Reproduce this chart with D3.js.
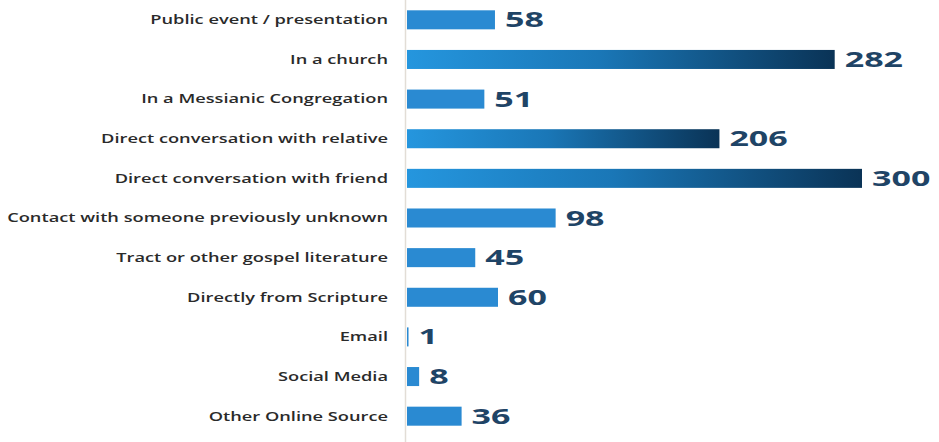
<!DOCTYPE html>
<html>
<head>
<meta charset="utf-8">
<script src="https://cdn.jsdelivr.net/npm/d3@7/dist/d3.min.js"></script>
<style>
  html, body { margin: 0; padding: 0; background: #ffffff; }
  svg { display: block; }
</style>
</head>
<body>
<svg id="chart" width="939" height="442"></svg>
<script>
// How people first heard the gospel
const categories = [
  "Public event / presentation",
  "In a church",
  "In a Messianic Congregation",
  "Direct conversation with relative",
  "Direct conversation with friend",
  "Contact with someone previously unknown",
  "Tract or other gospel literature",
  "Directly from Scripture",
  "Email",
  "Social Media",
  "Other Online Source"
];
const values = [58, 282, 51, 206, 300, 98, 45, 60, 1, 8, 36];

const width = 939, height = 442;
const svg = d3.select("#chart");
const catStretch = 1.46; // wide lettering
const valStretch = 1.62;

const x = d3.scaleLinear().domain([0, 300]).range([407, 862]);
const y = d3.scaleBand()
  .domain(categories)
  .range([0, 436])
  .paddingInner(0.52)
  .paddingOuter(0.26);

const data = categories.map((c, i) => ({ c, v: values[i], i }));

// gradient for the long bars
const defs = svg.append("defs");
const grad = defs.append("linearGradient")
  .attr("id", "longBar")
  .attr("x1", "0%").attr("x2", "100%").attr("y1", "0%").attr("y2", "0%");
grad.append("stop").attr("offset", "0%").attr("stop-color", "#2596de");
grad.append("stop").attr("offset", "45%").attr("stop-color", "#1a77b7");
grad.append("stop").attr("offset", "100%").attr("stop-color", "#0a3356");

// vertical baseline
svg.append("line")
  .attr("x1", 405.5).attr("x2", 405.5)
  .attr("y1", 0).attr("y2", height)
  .attr("stroke", "#e2ddd6").attr("stroke-width", 1.5);

// bars
svg.selectAll("rect.bar")
  .data(data)
  .join("rect")
  .attr("class", "bar")
  .attr("x", x(0))
  .attr("y", d => y(d.c))
  .attr("width", d => Math.max(1.5, x(d.v) - x(0)))
  .attr("height", y.bandwidth())
  .attr("fill", d => d.v > 150 ? "url(#longBar)" : "#2a8ad2");

// category labels
svg.selectAll("text.cat")
  .data(data)
  .join("text")
  .attr("class", "cat")
  .attr("transform", d => `translate(388,${y(d.c) + y.bandwidth() / 2}) scale(${catStretch},1)`)
  .attr("text-anchor", "end")
  .attr("dy", "0.35em")
  .attr("font-family", "'Open Sans', sans-serif")
  .attr("font-size", "12.5px")
  .attr("font-weight", 600)
  .attr("fill", "#2a2a2a")
  .text(d => d.c);

// value labels
svg.selectAll("text.val")
  .data(data)
  .join("text")
  .attr("class", "val")
  .attr("transform", d => `translate(${x(d.v) + 10},${y(d.c) + y.bandwidth() / 2}) scale(${valStretch},1)`)
  .attr("dy", "0.36em")
  .attr("font-family", "'Open Sans', sans-serif")
  .attr("font-size", "21px")
  .attr("font-weight", 700)
  .attr("fill", "#1f4466")
  .text(d => d.v);
</script>
</body>
</html>
